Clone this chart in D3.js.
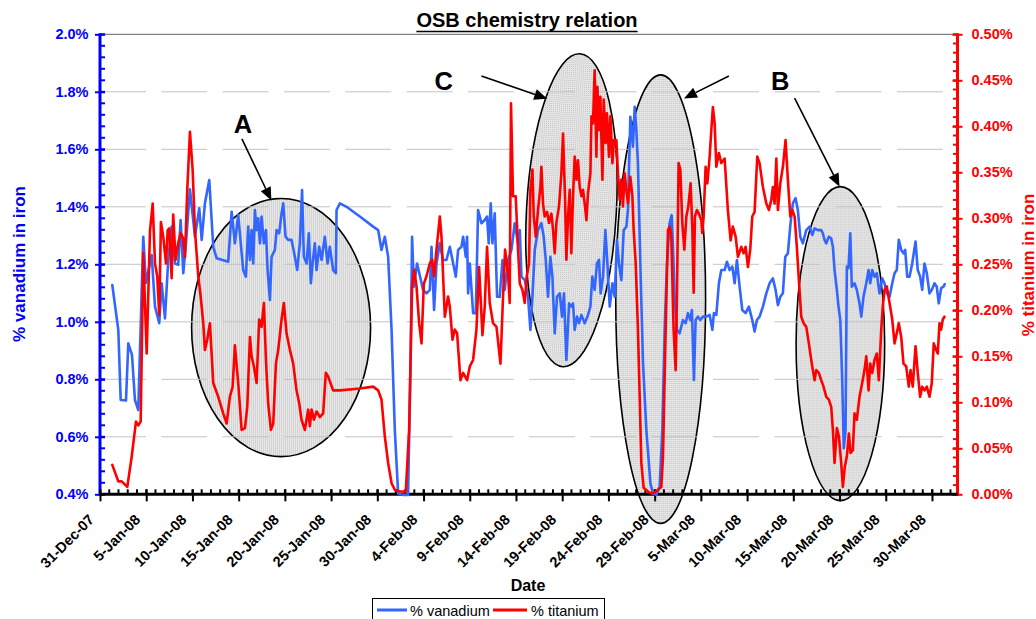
<!DOCTYPE html>
<html>
<head>
<meta charset="utf-8">
<script src="https://cdn.jsdelivr.net/npm/d3@7"></script>
<style>
  html, body { margin: 0; padding: 0; background: #fff; }
  svg { display: block; font-family: "Liberation Sans", Arial, Helvetica, sans-serif; }
</style>
</head>
<body>
<svg id="chart" width="1036" height="619"></svg>
<script>
// ---- data -------------------------------------------------------------
// Samples are [days since 31-Dec-2007, percent].
const vanadium = [
  [1.33,1.128],[1.98,0.972],[2.24,0.728],[2.81,0.726],[3.06,0.925],[3.46,0.885],[3.78,0.728],[4.14,0.693],
  [4.68,1.296],[4.97,1.135],[5.59,1.232],[5.95,1.053],[6.41,0.995],[6.67,1.134],[7.03,1.012],[7.38,1.215],
  [7.75,1.331],[8.11,1.203],[8.46,1.198],[8.72,1.354],[9.01,1.169],[9.30,1.273],[9.73,1.461],[10.27,1.296],
  [10.74,1.395],[11.00,1.285],[11.35,1.412],[11.82,1.493],[12.25,1.261],[12.62,1.221],[13.87,1.209],[14.24,1.383],
  [14.59,1.273],[14.95,1.371],[15.49,1.180],[15.78,1.157],[16.03,1.331],[16.22,1.215],[16.40,1.319],[16.58,1.203],
  [16.76,1.389],[16.94,1.319],[17.11,1.360],[17.30,1.273],[17.48,1.366],[17.73,1.273],[17.95,1.319],[18.13,1.180],
  [18.38,1.076],[18.56,1.226],[18.92,1.250],[19.10,1.319],[19.38,1.308],[19.64,1.377],[19.82,1.412],[20.07,1.296],
  [20.36,1.285],[20.72,1.285],[21.08,1.226],[21.33,1.180],[21.62,1.273],[21.86,1.458],[22.05,1.226],[22.35,1.203],
  [22.59,1.308],[22.81,1.134],[22.99,1.203],[23.24,1.273],[23.43,1.180],[23.71,1.261],[23.97,1.215],[24.32,1.296],
  [24.62,1.203],[24.86,1.261],[25.22,1.180],[25.51,1.169],[25.59,1.389],[25.95,1.412],[26.67,1.400],[28.11,1.366],
  [29.55,1.331],[30.09,1.319],[30.45,1.250],[30.81,1.296],[31.17,1.226],[31.54,0.972],[31.89,0.624],[32.25,0.403],
  [32.79,0.398],[33.33,0.398],[33.59,0.856],[33.76,1.296],[33.95,1.122],[34.30,1.203],[34.95,1.111],[35.32,1.099],
  [35.68,1.111],[35.86,1.261],[36.14,1.041],[36.40,1.203],[36.76,1.273],[37.11,1.215],[37.48,1.215],[37.84,1.261],
  [38.13,1.215],[38.49,1.157],[38.74,1.250],[39.10,1.261],[39.28,1.296],[39.57,1.226],[39.71,1.296],[39.82,1.099],
  [40.00,1.203],[40.36,1.030],[40.65,1.030],[40.90,1.389],[41.26,1.343],[41.62,1.354],[41.87,1.366],[42.05,1.273],
  [42.27,1.412],[42.45,1.273],[42.70,1.377],[42.95,1.087],[43.24,1.087],[43.54,1.215],[43.78,1.111],[44.14,1.215],
  [44.51,1.250],[44.86,1.343],[45.22,1.273],[45.41,1.319],[45.59,1.157],[45.95,1.145],[46.30,1.087],[46.56,0.972],
  [46.78,1.087],[47.03,1.250],[47.38,1.319],[47.75,1.343],[48.00,1.296],[48.22,1.215],[48.46,1.087],[48.72,1.226],
  [48.94,1.157],[49.19,0.960],[49.44,1.087],[49.73,1.099],[49.98,1.018],[50.19,1.099],[50.45,0.867],[50.74,1.064],
  [50.99,1.053],[51.17,1.064],[51.35,0.972],[51.60,1.018],[51.82,0.995],[52.08,1.024],[52.43,0.995],[52.79,1.024],
  [53.05,1.053],[53.26,1.157],[53.51,1.111],[53.76,1.203],[53.98,1.215],[54.16,1.099],[54.41,1.157],[54.67,1.319],
  [54.89,1.203],[55.14,1.053],[55.43,1.134],[55.68,1.087],[55.92,1.285],[56.14,1.203],[56.40,1.145],[56.65,1.319],
  [56.94,1.331],[57.11,1.389],[57.37,1.713],[57.65,1.609],[57.84,1.748],[58.02,1.667],[58.19,1.551],[58.45,1.203],
  [58.74,0.856],[59.10,0.624],[59.54,0.438],[59.82,0.403],[60.18,0.398],[60.54,0.426],[60.83,0.624],[61.08,0.972],
  [61.33,1.203],[61.62,1.343],[61.84,1.371],[61.98,1.261],[62.16,1.087],[62.41,0.972],[62.70,0.960],[63.06,1.006],
  [63.35,0.995],[63.60,1.030],[63.86,1.006],[64.03,1.041],[64.25,0.798],[64.43,1.006],[64.68,1.018],[64.94,1.006],
  [65.22,1.018],[65.59,1.018],[65.95,1.024],[66.24,0.972],[66.41,1.030],[66.67,1.024],[66.95,1.134],[67.21,1.180],
  [67.57,1.180],[67.82,1.209],[68.11,1.180],[68.40,1.192],[68.65,1.134],[68.90,1.215],[69.19,1.122],[69.48,1.041],
  [69.84,1.030],[70.19,1.053],[70.56,1.006],[70.81,0.966],[71.06,1.006],[71.35,1.018],[71.71,1.053],[72.08,1.099],
  [72.43,1.134],[72.79,1.151],[73.08,1.111],[73.33,1.058],[73.59,1.087],[73.87,1.099],[74.13,1.226],[74.41,1.238],
  [74.70,1.343],[74.95,1.412],[75.24,1.430],[75.49,1.389],[75.75,1.296],[76.03,1.273],[76.40,1.319],[76.76,1.331],
  [77.05,1.302],[77.30,1.325],[77.66,1.319],[78.02,1.319],[78.19,1.308],[78.38,1.285],[78.56,1.273],[78.84,1.296],
  [79.10,1.290],[79.28,1.261],[79.46,1.180],[79.71,1.111],[79.89,1.053],[80.08,1.006],[80.29,0.798],[80.46,0.560],
  [80.65,0.624],[80.79,1.192],[80.97,1.187],[81.16,1.308],[81.33,1.122],[81.62,1.134],[81.87,1.111],[82.16,1.064],
  [82.35,1.018],[82.59,1.087],[82.89,1.134],[83.14,1.180],[83.32,1.134],[83.54,1.180],[83.78,1.157],[84.03,1.169],
  [84.32,1.099],[84.61,1.151],[84.86,1.134],[85.11,1.099],[85.41,1.087],[85.70,1.134],[85.95,1.169],[86.19,1.180],
  [86.41,1.285],[86.67,1.250],[86.92,1.238],[87.10,1.250],[87.32,1.157],[87.57,1.157],[87.86,1.203],[88.22,1.279],
  [88.46,1.180],[88.72,1.157],[88.94,1.111],[89.19,1.203],[89.44,1.169],[89.73,1.099],[89.98,1.111],[90.27,1.134],
  [90.52,1.122],[90.73,1.064],[90.99,1.117],[91.24,1.122],[91.38,1.131]
];

const titanium = [
  [1.33,0.032],[1.98,0.014],[2.35,0.014],[2.95,0.008],[3.43,0.041],[3.89,0.079],[4.14,0.075],[4.40,0.079],
  [4.68,0.262],[5.05,0.153],[5.41,0.287],[5.70,0.316],[5.95,0.251],[6.19,0.237],[6.41,0.195],[6.59,0.296],
  [6.84,0.280],[7.14,0.251],[7.32,0.287],[7.49,0.289],[7.75,0.235],[7.92,0.304],[8.18,0.255],[8.46,0.273],
  [8.72,0.284],[9.01,0.278],[9.19,0.258],[9.44,0.331],[9.73,0.394],[10.02,0.353],[10.27,0.287],[10.63,0.237],
  [10.89,0.215],[11.17,0.186],[11.35,0.157],[11.60,0.168],[11.89,0.186],[12.25,0.121],[12.79,0.106],[13.33,0.088],
  [13.70,0.077],[14.05,0.106],[14.35,0.117],[14.59,0.162],[14.95,0.121],[15.32,0.070],[15.68,0.072],[15.93,0.095],
  [16.22,0.171],[16.40,0.150],[16.65,0.139],[16.94,0.121],[17.22,0.190],[17.48,0.182],[17.73,0.208],[17.95,0.146],
  [18.19,0.099],[18.49,0.070],[18.74,0.077],[19.03,0.142],[19.28,0.157],[19.64,0.190],[19.89,0.208],[20.18,0.175],
  [20.54,0.157],[20.90,0.142],[21.26,0.113],[21.55,0.099],[21.80,0.081],[22.16,0.070],[22.52,0.092],[22.70,0.074],
  [22.89,0.092],[23.14,0.081],[23.43,0.090],[23.78,0.084],[24.14,0.088],[24.43,0.132],[24.68,0.128],[25.22,0.113],
  [25.95,0.113],[28.11,0.115],[29.55,0.117],[30.09,0.113],[30.45,0.103],[30.81,0.063],[31.17,0.034],[31.54,0.012],
  [31.89,0.005],[32.43,0.003],[33.08,0.003],[33.44,0.070],[33.59,0.142],[33.76,0.226],[33.98,0.244],[34.24,0.226],
  [34.52,0.186],[34.78,0.164],[35.03,0.229],[35.32,0.237],[35.68,0.251],[35.92,0.255],[36.14,0.237],[36.40,0.266],
  [36.76,0.302],[36.94,0.280],[37.30,0.193],[37.48,0.204],[37.65,0.215],[37.84,0.204],[38.13,0.168],[38.38,0.179],
  [38.63,0.175],[38.99,0.124],[39.28,0.132],[39.71,0.124],[40.00,0.139],[40.36,0.146],[40.72,0.179],[41.01,0.247],
  [41.37,0.173],[41.62,0.204],[41.87,0.269],[42.16,0.208],[42.52,0.186],[42.89,0.182],[43.32,0.142],[43.60,0.215],
  [43.82,0.266],[44.14,0.240],[44.32,0.208],[44.46,0.425],[44.68,0.324],[44.97,0.324],[45.22,0.266],[45.41,0.229],
  [45.70,0.222],[45.95,0.208],[46.16,0.237],[46.41,0.251],[46.56,0.331],[46.78,0.353],[46.92,0.302],[47.14,0.280],
  [47.38,0.309],[47.64,0.334],[47.75,0.356],[47.92,0.316],[48.11,0.302],[48.36,0.307],[48.57,0.295],[48.83,0.305],
  [49.01,0.287],[49.19,0.262],[49.37,0.295],[49.65,0.313],[49.91,0.349],[50.09,0.392],[50.30,0.324],[50.45,0.255],
  [50.63,0.302],[50.81,0.331],[50.99,0.262],[51.17,0.324],[51.35,0.367],[51.54,0.342],[51.71,0.363],[51.89,0.334],
  [52.08,0.324],[52.25,0.331],[52.43,0.316],[52.62,0.298],[52.79,0.327],[53.05,0.349],[53.16,0.411],[53.33,0.403],
  [53.51,0.461],[53.70,0.367],[53.81,0.443],[53.98,0.396],[54.13,0.432],[54.35,0.342],[54.49,0.429],[54.70,0.382],
  [54.84,0.414],[55.06,0.367],[55.21,0.411],[55.43,0.360],[55.60,0.385],[55.86,0.385],[56.03,0.349],[56.22,0.320],
  [56.40,0.342],[56.57,0.313],[56.76,0.349],[56.94,0.331],[57.11,0.316],[57.37,0.345],[57.59,0.324],[57.73,0.287],
  [57.95,0.251],[58.19,0.179],[58.38,0.106],[58.56,0.034],[58.81,0.007],[59.28,0.003],[59.64,0.001],[60.00,0.002],
  [60.36,0.005],[60.72,0.008],[60.90,0.041],[61.19,0.179],[61.44,0.287],[61.62,0.291],[61.80,0.280],[62.05,0.179],
  [62.27,0.135],[62.41,0.215],[62.59,0.360],[62.78,0.353],[62.99,0.295],[63.21,0.266],[63.43,0.302],[63.64,0.313],
  [63.89,0.338],[64.08,0.287],[64.22,0.219],[64.36,0.302],[64.57,0.309],[64.79,0.305],[65.05,0.298],[65.15,0.284],
  [65.30,0.302],[65.51,0.356],[65.70,0.338],[65.95,0.367],[66.13,0.396],[66.30,0.421],[66.49,0.403],[66.67,0.356],
  [66.95,0.371],[67.21,0.360],[67.57,0.365],[67.92,0.309],[68.22,0.276],[68.46,0.291],[68.76,0.280],[69.01,0.258],
  [69.37,0.269],[69.62,0.262],[69.84,0.269],[70.09,0.247],[70.34,0.266],[70.56,0.302],[70.81,0.307],[71.10,0.367],
  [71.35,0.360],[71.71,0.334],[72.08,0.316],[72.36,0.309],[72.62,0.320],[72.79,0.334],[72.97,0.316],[73.16,0.365],
  [73.33,0.309],[73.59,0.338],[73.87,0.356],[74.16,0.385],[74.41,0.342],[74.67,0.302],[74.89,0.309],[75.14,0.302],
  [75.38,0.269],[75.60,0.233],[75.86,0.193],[76.11,0.186],[76.40,0.182],[76.68,0.164],[76.94,0.146],[77.11,0.135],
  [77.30,0.124],[77.48,0.135],[77.76,0.132],[78.02,0.124],[78.27,0.117],[78.56,0.106],[78.84,0.103],[79.10,0.095],
  [79.28,0.070],[79.46,0.034],[79.71,0.072],[79.93,0.063],[80.18,0.034],[80.36,0.008],[80.57,0.030],[80.79,0.041],
  [81.01,0.066],[81.19,0.045],[81.44,0.048],[81.62,0.088],[81.87,0.081],[82.16,0.106],[82.45,0.121],[82.70,0.135],
  [82.89,0.150],[83.14,0.113],[83.32,0.142],[83.54,0.132],[83.78,0.146],[84.03,0.153],[84.25,0.124],[84.51,0.179],
  [84.68,0.204],[84.86,0.222],[85.11,0.226],[85.41,0.208],[85.70,0.190],[85.95,0.164],[86.19,0.175],[86.41,0.186],
  [86.67,0.171],[86.92,0.142],[87.21,0.139],[87.49,0.117],[87.68,0.135],[87.92,0.117],[88.22,0.161],[88.46,0.132],
  [88.72,0.106],[88.94,0.117],[89.19,0.113],[89.44,0.117],[89.73,0.106],[89.98,0.121],[90.19,0.164],[90.45,0.157],
  [90.63,0.153],[90.81,0.186],[90.99,0.179],[91.17,0.190],[91.35,0.193]
];

const seriesNames = ["% vanadium", "% titanium"];

const xTickLabels = ["31-Dec-07","5-Jan-08","10-Jan-08","15-Jan-08","20-Jan-08","25-Jan-08","30-Jan-08",
  "4-Feb-08","9-Feb-08","14-Feb-08","19-Feb-08","24-Feb-08","29-Feb-08","5-Mar-08","10-Mar-08",
  "15-Mar-08","20-Mar-08","25-Mar-08","30-Mar-08"];
const vanadiumTicks = [0.4, 0.6, 0.8, 1.0, 1.2, 1.4, 1.6, 1.8, 2.0];
const titaniumTicks = [0, 0.05, 0.10, 0.15, 0.20, 0.25, 0.30, 0.35, 0.40, 0.45, 0.50];

// Highlighted regions (day, vanadium-axis %) and their callouts
const regionEllipses = [
  { day: 19.59, pct: 0.980, rDays: 9.68, rPct: 0.449, tilt: 0 },
  { day: 51.00, pct: 1.388, rDays: 4.86, rPct: 0.545, tilt: 3.1 },
  { day: 60.65, pct: 1.079, rDays: 4.86, rPct: 0.780, tilt: 0 },
  { day: 80.09, pct: 0.924, rDays: 4.79, rPct: 0.546, tilt: 0 }
];
const calloutLabels = [
  { text: "A", day: 15.46, pct: 1.655 },
  { text: "C", day: 37.19, pct: 1.806 },
  { text: "B", day: 73.59, pct: 1.806 }
];
const calloutArrows = [
  [15.35, 1.636, 18.54, 1.422],
  [41.26, 1.855, 48.38, 1.776],
  [68.03, 1.855, 63.17, 1.777],
  [75.14, 1.778, 80.00, 1.470]
];

// ---- layout -----------------------------------------------------------
const W = 1036, H = 619;
const plot = { left: 100, right: 957.5, top: 34.3, bottom: 494.3 };
const origin = Date.UTC(2007, 11, 31);
const DAY = 864e5;
const toDate = d => new Date(origin + d * DAY);
const axisEndDays = 92.76;

const x = d3.scaleUtc().domain([toDate(0), toDate(axisEndDays)]).range([plot.left, plot.right]);
const yV = d3.scaleLinear().domain([0.4, 2.0]).range([plot.bottom, plot.top]);
const yT = d3.scaleLinear().domain([0, 0.5]).range([plot.bottom, plot.top]);

const BLUE_LINE = "#3366ff", RED = "#ff0000", BLUE_AXIS = "#0000ff";
const svg = d3.select("#chart");

const defs = svg.append("defs");
const pat = defs.append("pattern").attr("id", "stipple")
  .attr("width", 2).attr("height", 2).attr("patternUnits", "userSpaceOnUse");
pat.append("rect").attr("width", 2).attr("height", 2).attr("fill", "#e9e9e9");
pat.append("rect").attr("width", 1).attr("height", 1).attr("fill", "#bababa");

svg.append("rect").attr("width", W).attr("height", H).attr("fill", "#fff");

// ---- highlighted regions ---------------------------------------------
const pxPerDay = x(toDate(1)) - x(toDate(0));
svg.append("g").selectAll("ellipse").data(regionEllipses).join("ellipse")
  .attr("cx", 0).attr("cy", 0)
  .attr("rx", d => d.rDays * pxPerDay)
  .attr("ry", d => yV(0.4) - yV(0.4 + d.rPct))
  .attr("transform", d => `translate(${x(toDate(d.day))},${yV(d.pct)}) rotate(${d.tilt})`)
  .attr("fill", "url(#stipple)")
  .attr("stroke", "#000").attr("stroke-width", 1.6);

// ---- gridlines --------------------------------------------------------
svg.append("g").selectAll("line").data(vanadiumTicks.filter(v => v > 0.4 && v < 2.0)).join("line")
  .attr("x1", plot.left).attr("x2", plot.right)
  .attr("y1", d => yV(d)).attr("y2", d => yV(d))
  .attr("stroke", "#c4c4c4").attr("stroke-width", 1)
  .attr("stroke-dasharray", "46,15.3");
svg.append("line").attr("x1", plot.left).attr("x2", plot.right)
  .attr("y1", plot.top).attr("y2", plot.top).attr("stroke", "#808080").attr("stroke-width", 1.2);

// ---- axes -------------------------------------------------------------
const pctFmt1 = d => d3.format(".1f")(d) + "%";
const pctFmt2 = d => d3.format(".2f")(d) + "%";

// left (vanadium)
const gL = svg.append("g").attr("transform", `translate(${plot.left},0)`);
gL.call(d3.axisLeft(yV).tickValues(vanadiumTicks).tickFormat(pctFmt1).tickSize(5).tickPadding(6.5));
gL.call(g => g.select(".domain").remove());
gL.selectAll(".tick line").attr("x1", 5).attr("x2", -5).attr("stroke", BLUE_AXIS).attr("stroke-width", 2);
gL.selectAll(".tick text").attr("fill", BLUE_AXIS).attr("font-size", 14.5).attr("font-weight", "bold")
  .attr("font-family", "Liberation Sans, Arial, sans-serif");
const minorV = d3.range(0.4, 2.0001, 0.04);
gL.append("g").selectAll("line").data(minorV).join("line")
  .attr("x1", 0).attr("x2", 5).attr("y1", d => yV(d)).attr("y2", d => yV(d))
  .attr("stroke", BLUE_AXIS).attr("stroke-width", 2);
gL.append("line").attr("y1", plot.top - 1).attr("y2", plot.bottom + 1.5)
  .attr("stroke", BLUE_AXIS).attr("stroke-width", 3);

// right (titanium)
const gR = svg.append("g").attr("transform", `translate(${plot.right},0)`);
gR.call(d3.axisRight(yT).tickValues(titaniumTicks).tickFormat(pctFmt2).tickSize(5).tickPadding(9));
gR.call(g => g.select(".domain").remove());
gR.selectAll(".tick line").attr("x1", -5).attr("x2", 5).attr("stroke", RED).attr("stroke-width", 2);
gR.selectAll(".tick text").attr("fill", RED).attr("font-size", 14.5).attr("font-weight", "bold")
  .attr("font-family", "Liberation Sans, Arial, sans-serif");
const minorT = d3.range(0, 0.5001, 0.01);
gR.append("g").selectAll("line").data(minorT).join("line")
  .attr("x1", -4.5).attr("x2", 0).attr("y1", d => yT(d)).attr("y2", d => yT(d))
  .attr("stroke", RED).attr("stroke-width", 2);
gR.append("line").attr("y1", plot.top - 1).attr("y2", plot.bottom + 1.5)
  .attr("stroke", RED).attr("stroke-width", 3);

// bottom (date)
const majorDates = xTickLabels.map((_, i) => d3.utcDay.offset(toDate(0), 5 * i));
const minorDates = d3.utcDay.range(toDate(0), toDate(axisEndDays));
const gB = svg.append("g").attr("transform", `translate(0,${plot.bottom})`);
gB.append("g").selectAll("line").data(minorDates).join("line")
  .attr("x1", d => x(d)).attr("x2", d => x(d)).attr("y1", -5).attr("y2", 0)
  .attr("stroke", "#000").attr("stroke-width", 2);
gB.call(d3.axisBottom(x).tickValues(majorDates).tickFormat("").tickSize(7));
gB.call(g => g.select(".domain").remove());
gB.selectAll(".tick line").attr("y1", -5).attr("y2", 7).attr("stroke", "#000").attr("stroke-width", 2);
gB.append("line").attr("x1", plot.left).attr("x2", plot.right)
  .attr("stroke", "#000").attr("stroke-width", 3);

svg.append("g").selectAll("text").data(majorDates).join("text")
  .attr("transform", d => `translate(${x(d) - 5},520.5) rotate(-45)`)
  .attr("text-anchor", "end")
  .attr("font-size", 14.5).attr("font-weight", "bold").attr("fill", "#000")
  .text((d, i) => xTickLabels[i]);

// ---- series -----------------------------------------------------------
const lineV = d3.line().x(d => x(toDate(d[0]))).y(d => yV(d[1]));
const lineT = d3.line().x(d => x(toDate(d[0]))).y(d => yT(d[1]));
svg.append("path").datum(vanadium).attr("d", lineV)
  .attr("fill", "none").attr("stroke", BLUE_LINE).attr("stroke-width", 2.6)
  .attr("stroke-linejoin", "round").attr("stroke-linecap", "round");
svg.append("path").datum(titanium).attr("d", lineT)
  .attr("fill", "none").attr("stroke", RED).attr("stroke-width", 2.6)
  .attr("stroke-linejoin", "round").attr("stroke-linecap", "round");

// ---- callouts ---------------------------------------------------------
const gA = svg.append("g");
calloutArrows.forEach(a => {
  const x1 = x(toDate(a[0])), y1 = yV(a[1]), x2 = x(toDate(a[2])), y2 = yV(a[3]);
  const ang = Math.atan2(y2 - y1, x2 - x1);
  const len = 13, half = 5.5;
  const bx = x2 - len * Math.cos(ang), by = y2 - len * Math.sin(ang);
  gA.append("line").attr("x1", x1).attr("y1", y1).attr("x2", bx).attr("y2", by)
    .attr("stroke", "#000").attr("stroke-width", 1.6);
  const px = -Math.sin(ang) * half, py = Math.cos(ang) * half;
  gA.append("polygon")
    .attr("points", `${x2},${y2} ${bx + px},${by + py} ${bx - px},${by - py}`)
    .attr("fill", "#000");
});
gA.selectAll("text").data(calloutLabels).join("text")
  .attr("x", d => x(toDate(d.day))).attr("y", d => yV(d.pct))
  .attr("text-anchor", "middle").attr("font-size", 25.5).attr("font-weight", "bold")
  .text(d => d.text);

// ---- titles -----------------------------------------------------------
const title = svg.append("text").attr("x", 527).attr("y", 26.7)
  .attr("text-anchor", "middle").attr("font-size", 20).attr("font-weight", "bold")
  .text("OSB chemistry relation");
const tb = title.node().getBBox();
svg.append("line").attr("x1", tb.x).attr("x2", tb.x + tb.width)
  .attr("y1", 31.5).attr("y2", 31.5).attr("stroke", "#000").attr("stroke-width", 1.6);

svg.append("text").attr("transform", "translate(25,264) rotate(-90)")
  .attr("text-anchor", "middle").attr("font-size", 17).attr("font-weight", "bold")
  .attr("fill", BLUE_AXIS).text("% vanadium in iron");
svg.append("text").attr("transform", "translate(1033.5,265) rotate(-90)")
  .attr("text-anchor", "middle").attr("font-size", 17).attr("font-weight", "bold")
  .attr("fill", RED).text("% titanium in iron");
svg.append("text").attr("x", 528).attr("y", 591)
  .attr("text-anchor", "middle").attr("font-size", 16).attr("font-weight", "bold")
  .text("Date");

// ---- legend -----------------------------------------------------------
const lg = svg.append("g");
lg.append("rect").attr("x", 372.5).attr("y", 598.5).attr("width", 232).attr("height", 30)
  .attr("fill", "#fff").attr("stroke", "#000").attr("stroke-width", 1);
const legendItems = [
  { name: seriesNames[0], color: BLUE_LINE, x0: 377, x1: 407, tx: 410 },
  { name: seriesNames[1], color: RED, x0: 493, x1: 527, tx: 531 }
];
legendItems.forEach(it => {
  lg.append("line").attr("x1", it.x0).attr("x2", it.x1).attr("y1", 610).attr("y2", 610)
    .attr("stroke", it.color).attr("stroke-width", 3);
  lg.append("text").attr("x", it.tx).attr("y", 615.5).attr("font-size", 14.5).text(it.name);
});
</script>
</body>
</html>
